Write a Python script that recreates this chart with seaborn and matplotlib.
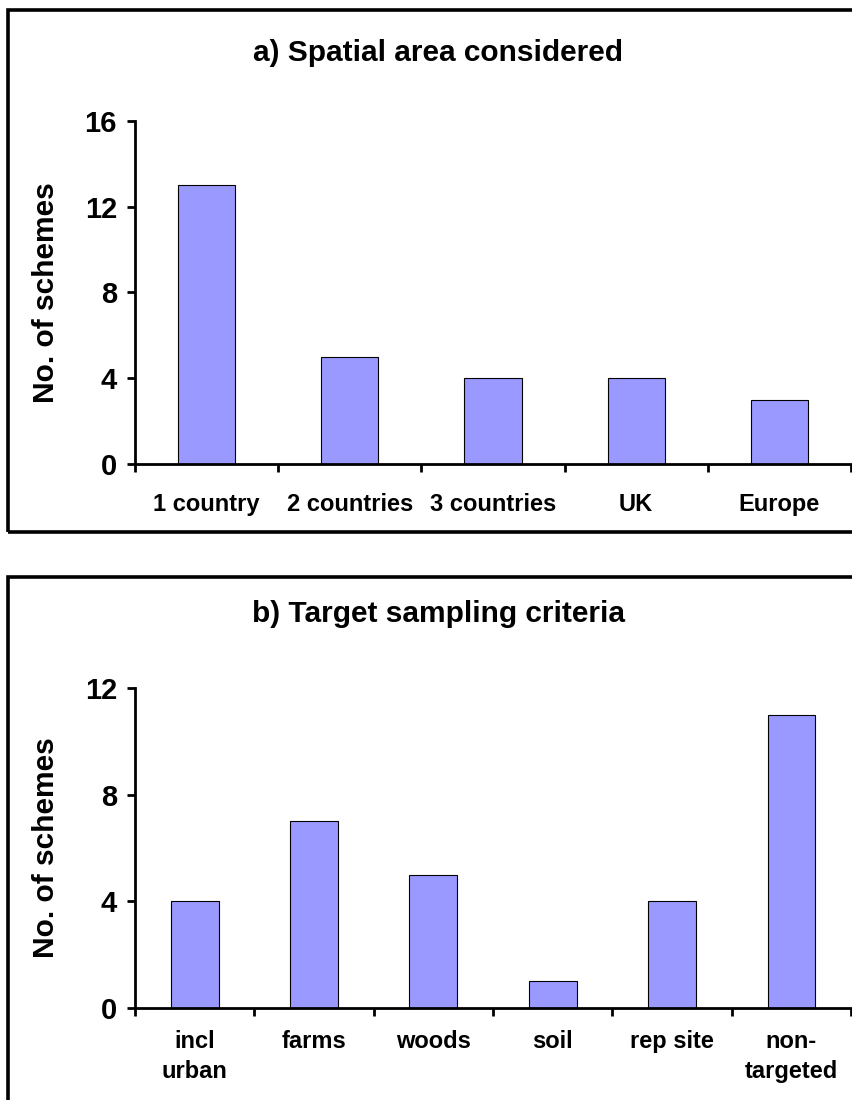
import numpy as np
import pandas as pd
import matplotlib
matplotlib.use("Agg")
import matplotlib.pyplot as plt
import matplotlib.patches as mpatches
import seaborn as sns

# data
area_labels = ['1 country', '2 countries', '3 countries', 'UK', 'Europe']
area_counts = [13, 5, 4, 4, 3]
target_labels = ['incl\nurban', 'farms', 'woods', 'soil', 'rep site', 'non-\ntargeted']
target_counts = [4, 7, 5, 1, 4, 11]

sns.set_theme(style='white')
plt.rcParams['font.family'] = ['Liberation Sans', 'DejaVu Sans']
plt.rcParams['font.weight'] = 'bold'
plt.rcParams['text.color'] = 'black'
plt.rcParams['axes.labelcolor'] = 'black'
plt.rcParams['xtick.color'] = 'black'
plt.rcParams['ytick.color'] = 'black'

bar_col = '#9999FF'

fig = plt.figure(figsize=(8.53, 11), dpi=100)


def panel(rect, cats, vals, ymax, ystep, title, title_y, box, xpad):
    ax = fig.add_axes(rect)
    df = pd.DataFrame({'cat': cats, 'n': vals})
    sns.barplot(data=df, x='cat', y='n', color=bar_col, width=0.4,
                edgecolor='black', linewidth=0.8, saturation=1, ax=ax)
    n = len(cats)
    ax.set_xlim(-0.5, n - 0.5)
    ax.set_ylim(0, ymax)
    ax.set_yticks(np.arange(0, ymax + 1, ystep))
    ax.set_xticks(np.arange(n))
    ax.set_xticklabels(cats, fontsize=17, fontweight='bold', linespacing=1.35)
    ax.set_xticks(np.arange(-0.5, n, 1.0), minor=True)
    ax.tick_params(axis='x', which='major', length=0, pad=xpad)
    ax.tick_params(axis='x', which='minor', length=6, width=2, direction='out',
                   color='black', bottom=True)
    ax.tick_params(axis='y', length=6, width=2, direction='out', color='black',
                   labelsize=21, pad=7, left=True)
    for lab in ax.get_yticklabels():
        lab.set_fontweight('bold')
    ax.set_xlabel('')
    ax.set_ylabel('No. of schemes', fontsize=21.5, fontweight='bold', labelpad=18)
    for s in ['top', 'right']:
        ax.spines[s].set_visible(False)
    for s in ['left', 'bottom']:
        ax.spines[s].set_linewidth(2)
        ax.spines[s].set_color('black')
    ax.patch.set_alpha(0)
    fig.text(0.514, title_y, title, ha='center', va='center',
             fontsize=21.5, fontweight='bold')
    fig.patches.append(mpatches.Rectangle((box[0], box[1]), box[2], box[3],
                                          transform=fig.transFigure, fill=False,
                                          edgecolor='black', linewidth=2.6,
                                          zorder=0))
    return ax


panel([0.1583, 0.5782, 0.8394, 0.3118], area_labels, area_counts, 16, 4,
      'a) Spatial area considered', 0.952,
      (8 / 853, 1 - 532 / 1100, 1.2, (532 - 10) / 1100), 21)
panel([0.1583, 0.0836, 0.8394, 0.2909], target_labels, target_counts, 12, 4,
      'b) Target sampling criteria', 0.442,
      (8 / 853, -0.05, 1.2, 0.05 + 1 - 577 / 1100), 16)

fig.savefig('out.png', dpi=100)
